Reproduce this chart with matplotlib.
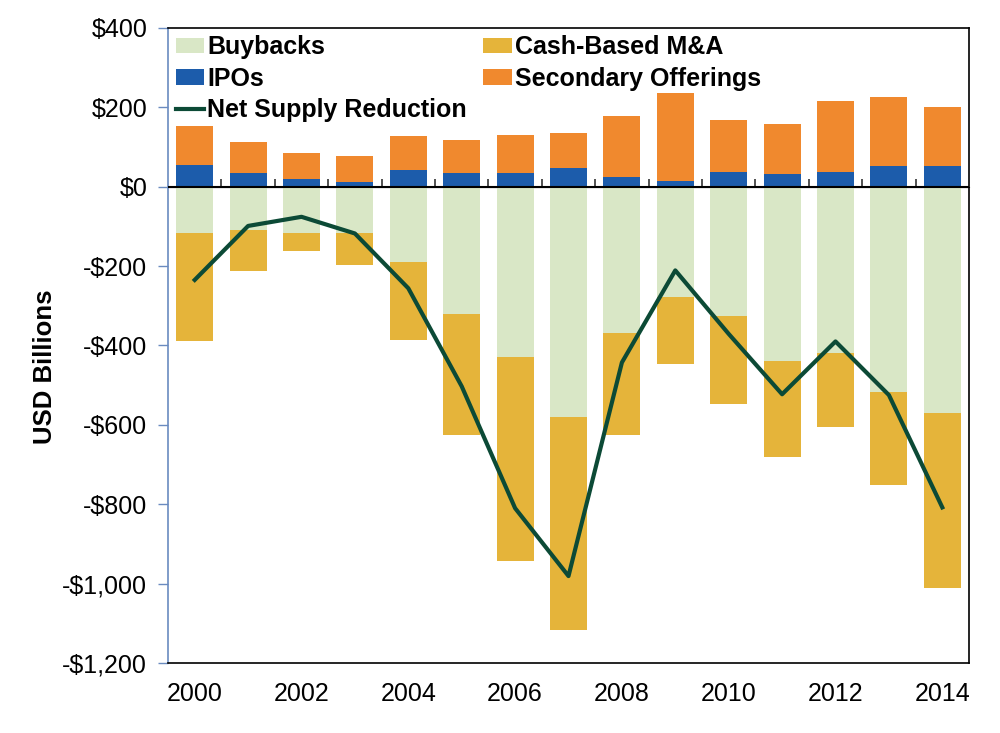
import matplotlib.pyplot as plt
import numpy as np

plt.rcParams['font.family'] = ['Liberation Sans', 'DejaVu Sans']

years = list(range(2000, 2015))
ipos = [54, 35, 18, 12, 41, 34, 35, 46, 25, 14, 36, 32, 38, 51, 51]
secondary = [100, 77, 68, 65, 87, 83, 96, 88, 152, 221, 132, 125, 177, 174, 150]
buybacks = [-118, -109, -117, -117, -189, -320, -430, -581, -369, -277, -326, -440, -419, -517, -570]
cash_ma = [-272, -103, -46, -80, -197, -305, -512, -537, -256, -170, -222, -241, -186, -235, -440]
net_supply = [-235, -99, -76, -118, -256, -503, -810, -981, -443, -211, -371, -523, -390, -525, -808]

c_buy = '#D9E7C6'
c_ipo = '#1C5CAB'
c_ma = '#E5B43A'
c_sec = '#F0892E'
c_net = '#0C4A36'

fig = plt.figure(figsize=(10, 7.33), dpi=100)
ax = fig.add_axes([0.168, 0.0955, 0.801, 0.8665])

x = np.arange(len(years))
w = 0.69
ax.bar(x, buybacks, w, color=c_buy, label='Buybacks', zorder=2)
ax.bar(x, cash_ma, w, bottom=buybacks, color=c_ma, label='Cash-Based M&A', zorder=2)
ax.bar(x, ipos, w, color=c_ipo, label='IPOs', zorder=2)
ax.bar(x, secondary, w, bottom=ipos, color=c_sec, label='Secondary Offerings', zorder=2)
ax.plot(x, net_supply, color=c_net, lw=3, label='Net Supply Reduction', zorder=3)

ymin, ymax = -1200, 400
ax.set_ylim(ymin, ymax)
ax.set_xlim(-0.5, len(years) - 0.5)

# y axis
ax.set_yticks(np.arange(ymin, ymax + 1, 200))
ax.set_yticklabels(['-$1,200', '-$1,000', '-$800', '-$600', '-$400', '-$200',
                    '$0', '$200', '$400'])
ax.tick_params(axis='y', direction='out', length=7, width=1, color='#6A8BC0',
               labelsize=18, pad=8)
ax.set_ylabel('USD Billions', fontsize=18.5, fontweight='bold')
ax.yaxis.set_label_coords(-0.138, 0.466)

# x axis: year labels every other year at the bottom
ax.set_xticks(x[::2])
ax.set_xticklabels([str(y) for y in years[::2]])
ax.tick_params(axis='x', length=0, labelsize=18, pad=14)

for s in ['top', 'right', 'bottom']:
    ax.spines[s].set_color('black')
    ax.spines[s].set_linewidth(1.2)
ax.spines['left'].set_color('#6A8BC0')
ax.spines['left'].set_linewidth(1.2)

# zero line with category boundary ticks
zero_axis = ax.secondary_xaxis((0 - ymin) / (ymax - ymin))
zero_axis.set_xticks(x[:-1] + 0.5)
zero_axis.set_xticklabels([])
zero_axis.tick_params(direction='out', length=6, width=1.2, color='#333333')
zero_axis.spines['bottom'].set_linewidth(1.5)
zero_axis.spines['bottom'].set_color('black')
ax.axhline(0, color='black', lw=1.5, zorder=4)

handles, labels = ax.get_legend_handles_labels()
order = ['Buybacks', 'IPOs', 'Net Supply Reduction', 'Cash-Based M&A', 'Secondary Offerings']
hmap = dict(zip(labels, handles))
ax.legend([hmap[k] for k in order], order, ncol=2, loc='upper left',
          bbox_to_anchor=(0.0, 1.0), frameon=False,
          prop={'size': 18, 'weight': 'bold'},
          handlelength=1.15, handleheight=0.6, handletextpad=0.12,
          labelspacing=0.3, columnspacing=0.65, borderpad=0.3,
          borderaxespad=0)

fig.savefig('out.png', dpi=100)
